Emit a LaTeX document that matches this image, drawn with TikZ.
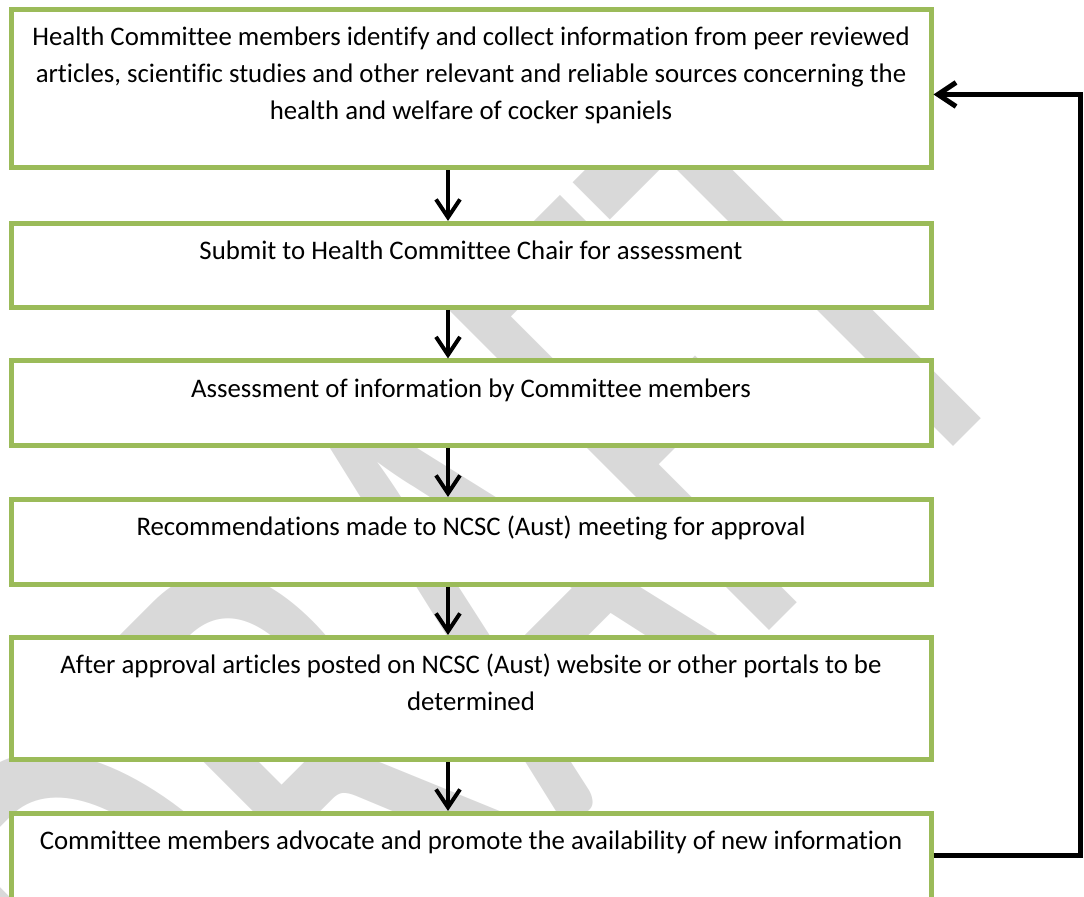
\documentclass[tikz,border=0pt]{standalone}
\usepackage{fontspec}
\setmainfont{Carlito}[Ligatures=NoCommon]
\newfontfamily\wmfont{Carlito}
\usetikzlibrary{arrows.meta,positioning}
\definecolor{boxgreen}{HTML}{9BBB59}
\definecolor{wmgray}{HTML}{D9D9D9}

\begin{document}
\begin{tikzpicture}[x=0.5pt,y=-0.5pt,
  stepbox/.style={draw=boxgreen,fill=white,line width=2.5pt,minimum width=460pt,inner sep=0pt},
  steptext/.style={anchor=base,align=center,inner sep=0pt,font=\fontsize{13.4}{18.5}\selectfont},
  flow/.style={line width=2pt,-{Straight Barb[length=9pt,width=12pt]}},
  back/.style={line width=2.5pt,-{Straight Barb[length=9pt,width=12pt]}}
]
\useasboundingbox (0,0) rectangle (1084,897);

%Watermark behind the boxes
\node[rotate=45,xscale=0.62,anchor=base east,text=wmgray,inner sep=0pt,font=\wmfont\fontsize{355}{355}\selectfont] (wm) at (1043,357) {DRAFT};

%Draw the boxes
\node[stepbox,minimum height=79.25pt] (b1) at (471,88.75) {};
\node[stepbox,minimum height=42pt]    (b2) at (471,265.5) {};
\node[stepbox,minimum height=42.25pt] (b3) at (471,403.25) {};
\node[stepbox,minimum height=42.5pt]  (b4) at (471,542) {};
\node[stepbox,minimum height=61.25pt] (b5) at (471,698.75) {};
\node[stepbox,minimum height=61pt]    (b6) at (471,874.5) {};

%Box texts
\node[steptext] (t1) at (471,120) {Health Committee members identify and collect information from peer reviewed\\
  articles, scientific studies and other relevant and reliable sources concerning the\\
  health and welfare of cocker spaniels};
\node[steptext] (t2) at (471,260) {Submit to Health Committee Chair for assessment};
\node[steptext] (t3) at (471,397.5) {Assessment of information by Committee members};
\node[steptext] (t4) at (471,536) {Recommendations made to NCSC (Aust) meeting for approval};
\node[steptext] (t5) at (471,711) {After approval articles posted on NCSC (Aust) website or other portals to be\\
  determined};
\node[steptext] (t6) at (471,850) {Committee members advocate and promote the availability of new information};

%Arrows down
\foreach \a/\b in {b1/b2,b2/b3,b3/b4,b4/b5,b5/b6}
{
  \draw[flow] ([xshift=-11.5pt]\a.south) -- ([xshift=-11.5pt]\b.north);
}

%Back to the start
\draw[back] ([yshift=9.25pt]b6.east) -- ++(73.25pt,0) |- ([yshift=-2.875pt]b1.east);
\end{tikzpicture}
\end{document}
